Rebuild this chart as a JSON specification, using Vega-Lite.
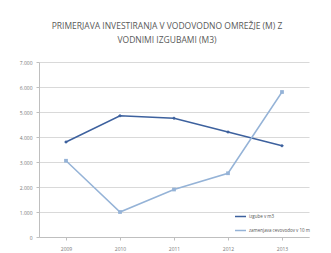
{
  "$schema": "https://vega.github.io/schema/vega-lite/v6.json",
  "autosize": {"type": "none"},
  "width": 270,
  "height": 175,
  "padding": {"left": 39, "top": 62, "right": 22, "bottom": 16},
  "background": "white",
  "config": {"view": {"stroke": null}, "font": "Open Sans"},
  "title": {
    "text": ["PRIMERJAVA INVESTIRANJA V VODOVODNO OMREŽJE (M) Z", "VODNIMI IZGUBAMI (M3)"],
    "fontSize": 8.5,
    "fontWeight": "normal",
    "color": "#595959",
    "anchor": "middle",
    "dx": -7,
    "offset": 16,
    "lineHeight": 14,
    "font": "Open Sans"
  },
  "data": {"values": [
    {"leto": "2009", "serija": "izgube v m3", "vrednost": 3800},
    {"leto": "2010", "serija": "izgube v m3", "vrednost": 4850},
    {"leto": "2011", "serija": "izgube v m3", "vrednost": 4750},
    {"leto": "2012", "serija": "izgube v m3", "vrednost": 4200},
    {"leto": "2013", "serija": "izgube v m3", "vrednost": 3650},
    {"leto": "2009", "serija": "zamenjava cevovodov v 10 m", "vrednost": 3050},
    {"leto": "2010", "serija": "zamenjava cevovodov v 10 m", "vrednost": 1000},
    {"leto": "2011", "serija": "zamenjava cevovodov v 10 m", "vrednost": 1900},
    {"leto": "2012", "serija": "zamenjava cevovodov v 10 m", "vrednost": 2550},
    {"leto": "2013", "serija": "zamenjava cevovodov v 10 m", "vrednost": 5800}
  ]},
  "encoding": {
    "x": {"field": "leto", "type": "ordinal", "scale": {"type": "point", "padding": 0.5},
      "axis": {"title": null, "labelAngle": 0, "labelFontSize": 5, "labelColor": "#777777", "domainColor": "#bfbfbf", "tickColor": "#bfbfbf", "tickSize": 3, "labelPadding": 6, "grid": false}},
    "y": {"field": "vrednost", "type": "quantitative", "scale": {"domain": [0, 7000]},
      "axis": {"title": null, "values": [0,1000,2000,3000,4000,5000,6000,7000], "labelExpr": "replace(format(datum.value, ','), ',', '.')", "labelFontSize": 5, "labelColor": "#777777", "domainColor": "#bfbfbf", "tickColor": "#bfbfbf", "tickSize": 3, "gridColor": "#d9d9d9", "labelPadding": 4}},
    "color": {"field": "serija", "type": "nominal", "scale": {"domain": ["izgube v m3", "zamenjava cevovodov v 10 m"], "range": ["#3d619e", "#95b3d7"]},
      "legend": {"title": null, "orient": "none", "legendX": 195, "legendY": 148, "labelFontSize": 4.5, "labelColor": "#555555", "symbolType": "stroke", "symbolSize": 120, "symbolStrokeWidth": 1.5, "rowPadding": 4, "labelOffset": 2}}
  },
  "layer": [
    {"mark": {"type": "line", "strokeWidth": 1.5}},
    {"transform": [{"filter": "datum.serija === 'izgube v m3'"}],
     "mark": {"type": "point", "filled": true, "size": 14, "opacity": 1, "shape": "diamond"}},
    {"transform": [{"filter": "datum.serija !== 'izgube v m3'"}],
     "mark": {"type": "point", "filled": true, "size": 14, "opacity": 1, "shape": "square"}}
  ]
}
